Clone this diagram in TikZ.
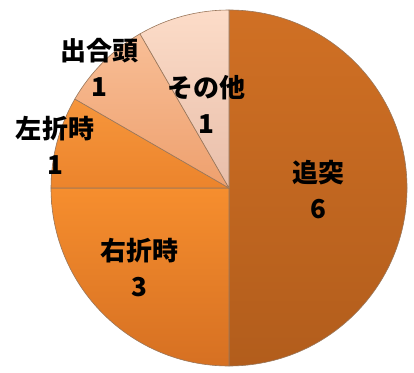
\documentclass[tikz,border=0pt]{standalone}
\usepackage{fontspec}
\newfontfamily\cjk{Noto Sans CJK JP}
\usepackage{xcolor}
\definecolor{ColRear}{RGB}{208,112,36}
\definecolor{ColRearD}{RGB}{178,93,28}
\definecolor{ColRight}{RGB}{246,142,46}
\definecolor{ColRightD}{RGB}{214,112,34}
\definecolor{ColLeft}{RGB}{246,150,60}
\definecolor{ColLeftD}{RGB}{236,132,44}
\definecolor{ColHead}{RGB}{248,190,150}
\definecolor{ColHeadD}{RGB}{238,160,110}
\definecolor{ColOther}{RGB}{252,220,200}
\definecolor{ColOtherD}{RGB}{232,190,170}
\definecolor{ColLine}{RGB}{110,60,20}
\usepackage{tikz}
\tikzstyle{Slice}=[draw=ColLine!70,line width=.6pt,line join=round]
\tikzstyle{Label}=[align=center,font=\cjk\bfseries\fontsize{26}{36}\selectfont,
inner sep=0pt]
\begin{document}
\begin{tikzpicture}[x=1pt,y=1pt]
    \useasboundingbox(0,0)rectangle(414,372);
        \coordinate(c)at(229,184);
        \path[Slice,top color=ColRear,bottom color=ColRearD](c)--++(90:178)
            arc[start angle=90,end angle=-90,radius=178]--cycle;
        \path[Slice,top color=ColRight,bottom color=ColRightD](c)--++(-90:178)
            arc[start angle=-90,end angle=-180,radius=178]--cycle;
        \path[Slice,top color=ColLeft,bottom color=ColLeftD](c)--++(180:178)
            arc[start angle=180,end angle=150,radius=178]--cycle;
        \path[Slice,top color=ColHead,bottom color=ColHeadD](c)--++(150:178)
            arc[start angle=150,end angle=120,radius=178]--cycle;
        \path[Slice,top color=ColOther,bottom color=ColOtherD](c)--++(120:178)
            arc[start angle=120,end angle=90,radius=178]--cycle;
        \node[Label](rear)at(318,182){追突\\6};
        \node[Label](right)at(139,104){右折時\\3};
        \node[Label](left)at(55,227){左折時\\1};
        \node[Label](head)at(99,305){出合頭\\1};
        \node[Label](other)at(206,268){その他\\1};
\end{tikzpicture}
\end{document}
